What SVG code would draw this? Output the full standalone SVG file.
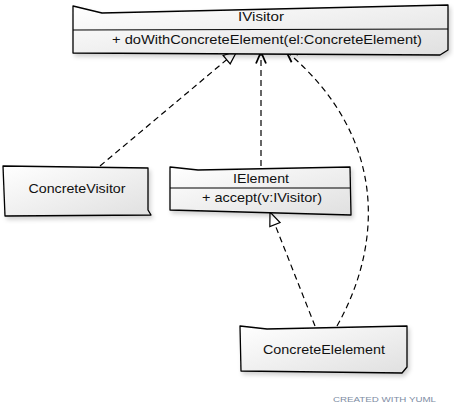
<svg xmlns="http://www.w3.org/2000/svg" width="454" height="415" viewBox="0 0 454 415">
<style>
.box{fill:url(#g);stroke:#000;stroke-width:1.3;stroke-linejoin:round;filter:url(#sh)}
.div{stroke:#000;stroke-width:1.1;fill:none}
.t{font-family:"Liberation Sans",Arial,sans-serif;font-size:13.5px;fill:#111;text-anchor:middle}
.c{fill:none;stroke:#000;stroke-width:1.2;stroke-dasharray:6,4}
.credit{font-family:"Liberation Sans",Arial,sans-serif;font-size:8px;fill:#7d8ca3}
</style>
<defs>
<linearGradient id="g" x1="0" y1="0" x2="1" y2="1">
<stop offset="0" stop-color="#ffffff"/>
<stop offset="1" stop-color="#e0e0e0"/>
</linearGradient>
<filter id="sh" x="-10%" y="-20%" width="130%" height="160%">
<feDropShadow dx="2" dy="3" stdDeviation="2.2" flood-color="#000" flood-opacity="0.18"/>
</filter>
<marker id="tri" viewBox="0 0 16 14" refX="15" refY="7" markerWidth="16" markerHeight="14" markerUnits="userSpaceOnUse" orient="auto">
<path d="M1.5,1.5 L15,7 L1.5,12.5 Z" fill="#fff" stroke="#000" stroke-width="1.2" stroke-linejoin="miter"/>
</marker>
<marker id="open" viewBox="0 0 14 12" refX="13" refY="6" markerWidth="14" markerHeight="12" markerUnits="userSpaceOnUse" orient="auto">
<path d="M1.5,1 L13,6 L1.5,11" fill="none" stroke="#000" stroke-width="1.8" stroke-linejoin="miter"/>
</marker>
</defs>
<rect width="454" height="415" fill="#fff"/>

<g id="connectors">
<path class="c" d="M100,166 L237,51" marker-end="url(#tri)"/>
<path class="c" d="M261,166 L261,52" marker-end="url(#open)"/>
<path class="c" d="M337,326 C380,250 392,140 286,51" marker-end="url(#open)"/>
<path class="c" d="M315,326 L270,212" marker-end="url(#tri)"/>
</g>

<g id="IVisitor">
<path class="box" d="M73,6 L102,13 L448,5 L448,50 L440,55 L73,53 Z"/>
<path class="div" d="M73,30 L448,29"/>
<text class="t" x="261" y="21" textLength="46" lengthAdjust="spacingAndGlyphs">IVisitor</text>
<text class="t" x="267" y="44" textLength="310" lengthAdjust="spacingAndGlyphs">+ doWithConcreteElement(el:ConcreteElement)</text>
</g>

<g id="ConcreteVisitor">
<path class="box" d="M3,166 L148,168 L148,210 L151,215 L5,216 Z"/>
<text class="t" x="77" y="193" textLength="97" lengthAdjust="spacingAndGlyphs">ConcreteVisitor</text>
</g>

<g id="IElement">
<path class="box" d="M170,167 L198,170 L350,167 L351,215 L170,210 Z"/>
<path class="div" d="M170,188 L350,188"/>
<text class="t" x="261" y="183" textLength="56" lengthAdjust="spacingAndGlyphs">IElement</text>
<text class="t" x="262" y="202" textLength="120" lengthAdjust="spacingAndGlyphs">+ accept(v:IVisitor)</text>
</g>

<g id="ConcreteElelement">
<path class="box" d="M240,326 L267,329 L407,326 L407,367 L402,373 L241,371 Z"/>
<text class="t" x="324" y="354" textLength="122" lengthAdjust="spacingAndGlyphs">ConcreteElelement</text>
</g>

<text class="credit" x="333" y="402" textLength="103" lengthAdjust="spacingAndGlyphs">CREATED WITH YUML</text>
</svg>
